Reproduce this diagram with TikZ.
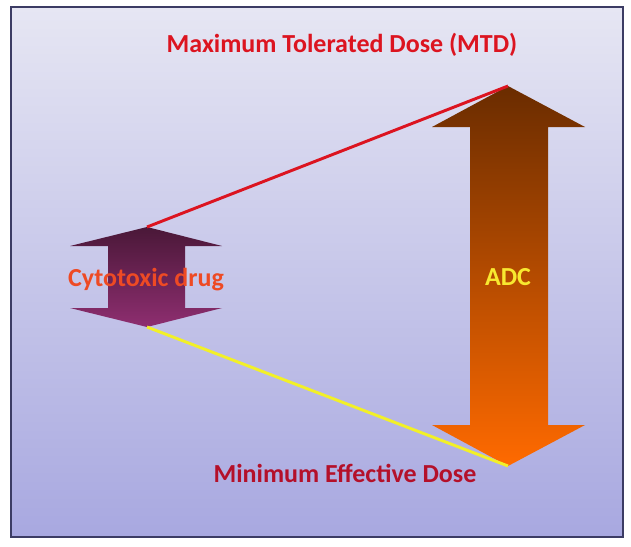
\documentclass[tikz,border=0pt]{standalone}
\usepackage{fontspec}
\setmainfont{Carlito}
\definecolor{bgtop}{HTML}{E6E6F3}
\definecolor{bgbot}{HTML}{A8A8E0}
\definecolor{framecol}{HTML}{3C3C64}
\definecolor{adctop}{HTML}{6A2C00}
\definecolor{adcbot}{HTML}{FF6A00}
\definecolor{cyttop}{HTML}{4A1838}
\definecolor{cytbot}{HTML}{8E2E70}
\definecolor{mtdred}{HTML}{DC1420}
\definecolor{medred}{HTML}{B4102A}
\definecolor{cytred}{HTML}{EE4A24}
\definecolor{adcyel}{HTML}{F8E830}
\definecolor{lineyel}{HTML}{F2F028}
\tikzset{
  lbl/.style={font=\fontsize{19.5}{22}\selectfont\bfseries, inner sep=0pt, anchor=base},
  link/.style={line width=2.2pt},
}
\begin{document}
\begin{tikzpicture}[x=0.75pt,y=-0.75pt]
\useasboundingbox (0,0) rectangle (631,546);
% background panel
\shade[top color=bgtop, bottom color=bgbot] (11,7) rectangle (623,537);
\draw[framecol, line width=1.5pt] (11,7) rectangle (623,537);
% ADC double arrow
\shade[top color=adctop, bottom color=adcbot]
  (508,86) -- (585,127) -- (548,127) -- (548,425) -- (585,425) -- (508,466)
  -- (432,425) -- (470,425) -- (470,127) -- (432,127) -- cycle;
\coordinate (adctip) at (508,86);
\coordinate (adcbase) at (508,466);
% Cytotoxic drug double arrow
\shade[top color=cyttop, bottom color=cytbot]
  (147,227) -- (222,246) -- (185,246) -- (185,308) -- (222,308) -- (147,327)
  -- (70,308) -- (108,308) -- (108,246) -- (70,246) -- cycle;
\coordinate (cyttip) at (147,227);
\coordinate (cytbase) at (147,327);
% connectors
\draw[link, mtdred] (cyttip) -- (adctip);
\draw[link, lineyel] (cytbase) -- (adcbase);
% labels
\node[lbl, text=mtdred] (mtd) at (342,52) {Maximum Tolerated Dose (MTD)};
\node[lbl, text=medred] (med) at (345,482) {Minimum Effective Dose};
\node[lbl, text=cytred] (cyt) at (146,286) {Cytotoxic drug};
\node[lbl, text=adcyel] (adc) at (508,285) {ADC};
\end{tikzpicture}
\end{document}
